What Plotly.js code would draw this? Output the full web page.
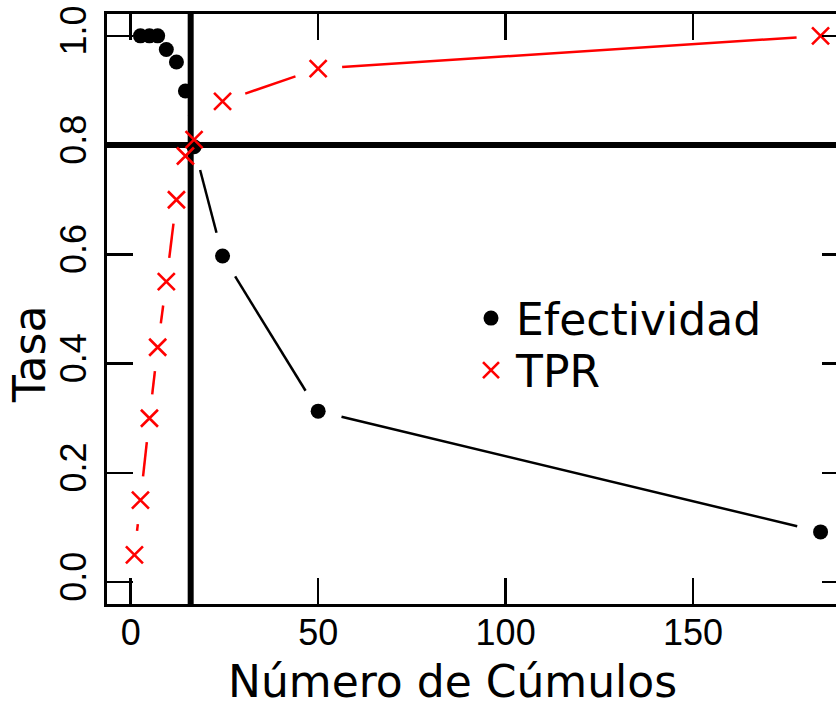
<!DOCTYPE html>
<html>
<head>
<meta charset="utf-8">
<script src="https://cdn.plot.ly/plotly-3.0.1.min.js"></script>
<style>
html, body { margin: 0; padding: 0; overflow: hidden; background: #ffffff; }
#chart { width: 870px; height: 705px; }
</style>
</head>
<body>
<div id="chart"></div>
<script>
// ---- data ----
const tprClusters = [1, 2.6, 5, 7.2, 9.5, 12.2, 14.6, 16.9, 24.5, 50, 184];
const tprValues   = [0.05, 0.15, 0.30, 0.43, 0.55, 0.70, 0.78, 0.81, 0.88, 0.94, 1.0];
const efClusters  = [2.6, 5, 7.2, 9.5, 12.2, 14.6, 16.9, 24.5, 50, 184];
const efValues    = [1.0, 1.0, 1.0, 0.975, 0.952, 0.899, 0.797, 0.597, 0.313, 0.092];
const chosenClusters = 16;
const rateThreshold  = 0.8;
const xTickVals  = [0, 50, 100, 150];
const xTickText  = ['0', '50', '100', '150'];
const yTickVals  = [0, 0.2, 0.4, 0.6, 0.8, 1.0];
const yTickText  = ['0.0', '0.2', '0.4', '0.6', '0.8', '1.0'];
const seriesNames = ['Efectividad', 'TPR'];
const xTitle = 'Número de Cúmulos';
const yTitle = 'Tasa';

// ---- geometry ----
const FIG_W = 870, FIG_H = 705;
const M = { l: 107, r: 22, t: 14, b: 101 };
const PW = FIG_W - M.l - M.r, PH = FIG_H - M.t - M.b;
const xRange = [-6.32, 191.32];
const yRange = [-0.04, 1.04];
const GAP = 24; // px gap around points (R type = "b")

// build line segments with gaps around each point, using the axis scales
function gapped(xs, ys) {
  const sx = v => (v - xRange[0]) / (xRange[1] - xRange[0]) * PW;
  const sy = v => (v - yRange[0]) / (yRange[1] - yRange[0]) * PH;
  const gx = [], gy = [];
  for (let i = 0; i < xs.length - 1; i++) {
    const d = Math.hypot(sx(xs[i + 1]) - sx(xs[i]), sy(ys[i + 1]) - sy(ys[i]));
    if (d <= 2 * GAP) continue;
    const t0 = GAP / d, t1 = 1 - GAP / d;
    gx.push(xs[i] + t0 * (xs[i + 1] - xs[i]), xs[i] + t1 * (xs[i + 1] - xs[i]), null);
    gy.push(ys[i] + t0 * (ys[i + 1] - ys[i]), ys[i] + t1 * (ys[i + 1] - ys[i]), null);
  }
  return { gx, gy };
}

const efLine = gapped(efClusters, efValues);
const tprLine = gapped(tprClusters, tprValues);

const traces = [
  { x: efLine.gx, y: efLine.gy, mode: 'lines', type: 'scatter', showlegend: false,
    line: { color: '#000000', width: 2.5 }, hoverinfo: 'skip' },
  { x: efClusters, y: efValues, mode: 'markers', type: 'scatter', name: seriesNames[0],
    marker: { symbol: 'circle', size: 15, color: '#000000' }, legend: 'legend', cliponaxis: false },
  { x: tprLine.gx, y: tprLine.gy, mode: 'lines', type: 'scatter', showlegend: false,
    line: { color: '#ff0000', width: 2.5 }, hoverinfo: 'skip' },
  { x: tprClusters, y: tprValues, mode: 'markers', type: 'scatter', name: seriesNames[1],
    marker: { symbol: 'x-thin-open', size: 17, color: '#ff0000', line: { color: '#ff0000', width: 2.6 } },
    legend: 'legend2', cliponaxis: false }
];

const tickFont = { family: 'Liberation Sans, Arial, sans-serif', size: 36, color: '#000000' };
const textFont = { family: 'DejaVu Sans, sans-serif', size: 44, color: '#000000' };

const layout = {
  width: FIG_W, height: FIG_H,
  margin: M,
  paper_bgcolor: '#ffffff', plot_bgcolor: '#ffffff',
  showlegend: true,
  xaxis: {
    range: xRange, tickmode: 'array', tickvals: xTickVals, ticktext: xTickText,
    ticks: 'inside', ticklen: 26, tickwidth: 2.5, tickcolor: '#000000',
    showline: true, linewidth: 3, linecolor: '#000000', mirror: 'ticks',
    showgrid: false, zeroline: false, tickfont: tickFont, ticklabelstandoff: -5
  },
  yaxis: {
    range: yRange, tickmode: 'array', tickvals: yTickVals, ticktext: yTickText,
    ticks: 'inside', ticklen: 26, tickwidth: 2.5, tickcolor: '#000000',
    showline: true, linewidth: 3, linecolor: '#000000', mirror: 'ticks',
    showgrid: false, zeroline: false, tickfont: tickFont, tickangle: -90, ticklabelstandoff: 4
  },
  shapes: [
    { type: 'line', xref: 'x', yref: 'paper', x0: chosenClusters, x1: chosenClusters, y0: 0, y1: 1,
      line: { color: '#000000', width: 6 }, layer: 'below' },
    { type: 'line', xref: 'paper', yref: 'y', x0: 0, x1: 1, y0: rateThreshold, y1: rateThreshold,
      line: { color: '#000000', width: 6 }, layer: 'below' }
  ],
  legend: {
    x: (466 - M.l) / PW, xanchor: 'left', y: (FIG_H - M.b - 283) / PH, yanchor: 'top',
    bgcolor: 'rgba(0,0,0,0)', borderwidth: 0, font: textFont, itemwidth: 40
  },
  legend2: {
    x: (466 - M.l) / PW, xanchor: 'left', y: (FIG_H - M.b - 335) / PH, yanchor: 'top',
    bgcolor: 'rgba(0,0,0,0)', borderwidth: 0, font: textFont, itemwidth: 40
  },
  annotations: [
    { text: xTitle, xref: 'paper', yref: 'paper', x: (452 - M.l) / PW, y: 0,
      xanchor: 'center', yanchor: 'top', yshift: -50, showarrow: false, font: textFont },
    { text: yTitle, xref: 'paper', yref: 'paper', x: 0, y: (FIG_H - M.b - 355) / PH,
      xanchor: 'center', yanchor: 'middle', xshift: -(M.l - 29), textangle: -90,
      showarrow: false, font: textFont }
  ]
};

Plotly.newPlot('chart', traces, layout, { displayModeBar: false, staticPlot: true });
</script>
</body>
</html>
